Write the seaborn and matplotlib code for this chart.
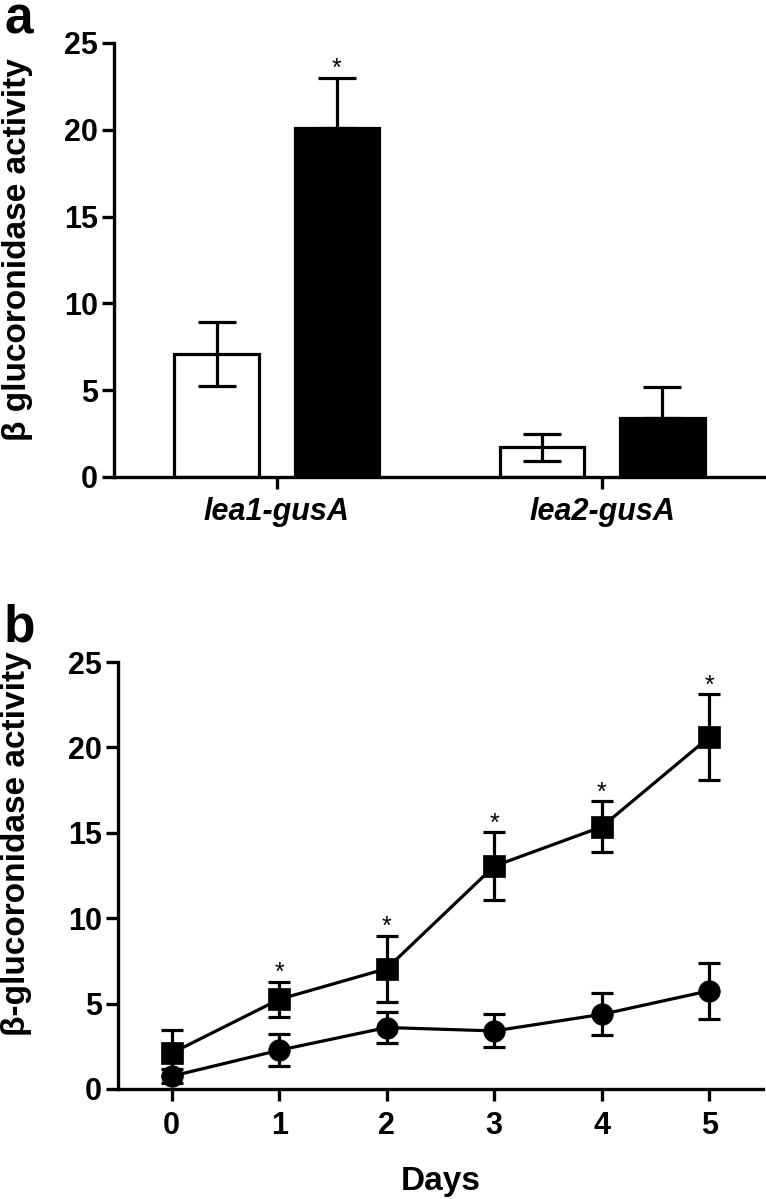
import matplotlib
matplotlib.use("Agg")
import matplotlib.pyplot as plt
from matplotlib.container import BarContainer
import seaborn as sns
import pandas as pd
import numpy as np

# ---------------- data ----------------
genes = ["lea1-gusA", "lea2-gusA"]
conditions = ["Control", "Treated"]
bar_control = [7.1, 1.7]
bar_control_err = [1.85, 0.8]
bar_treated = [20.1, 3.4]
bar_treated_err = [2.9, 1.8]
bar_sig = [True, False]          # asterisk above treated bar

days = [0, 1, 2, 3, 4, 5]
square_mean = [2.1, 5.25, 7.05, 13.05, 15.35, 20.6]
square_err = [1.35, 1.03, 1.93, 2.0, 1.5, 2.5]
circle_mean = [0.75, 2.27, 3.6, 3.4, 4.37, 5.75]
circle_err = [0.4, 0.95, 0.92, 0.97, 1.23, 1.63]
square_sig = [False, True, True, True, True, True]

yticks = [0, 5, 10, 15, 20, 25]

# ---------------- style ----------------
sns.set_style("ticks")
plt.rcParams["font.family"] = ["Liberation Sans", "DejaVu Sans"]
plt.rcParams["font.weight"] = "bold"
for key in ("text.color", "axes.labelcolor", "xtick.color", "ytick.color",
            "axes.edgecolor"):
    plt.rcParams[key] = "black"

W, H = 766, 1199
fig = plt.figure(figsize=(W / 100, H / 100), dpi=100)

LW = 2.4

def style_axis(ax):
    sns.despine(ax=ax)
    for s in ("left", "bottom"):
        ax.spines[s].set_linewidth(LW)
        ax.spines[s].set_color("black")
    ax.tick_params(axis="both", direction="out", width=LW, length=8.5,
                   color="black", labelcolor="black", labelsize=22, pad=3)
    for lab in ax.get_yticklabels() + ax.get_xticklabels():
        lab.set_fontweight("bold")

# ---------------- panel a ----------------
axA = fig.add_axes([114 / W, 1 - 477 / H, (765 - 114) / W, (477 - 43) / H])
dfA = pd.DataFrame({
    "gene": genes * 2,
    "condition": [conditions[0]] * 2 + [conditions[1]] * 2,
    "value": bar_control + bar_treated,
})
sns.barplot(data=dfA, x="gene", y="value", hue="condition", order=genes,
            hue_order=conditions, palette=["white", "black"], width=0.74,
            gap=0.3, edgecolor="black", linewidth=2.3, errorbar=None,
            legend=False, ax=axA)

bar_conts = [c for c in axA.containers if isinstance(c, BarContainer)]
errs = [bar_control_err, bar_treated_err]
for k, cont in enumerate(bar_conts):
    for j, patch in enumerate(cont.patches):
        xc = patch.get_x() + patch.get_width() / 2
        h = patch.get_height()
        e = errs[k][j]
        if k == 0:
            yerr = [[e], [e]]
        else:
            yerr = [[0], [e]]
        axA.errorbar([xc], [h], yerr=yerr, fmt="none", ecolor="black",
                     elinewidth=2.3, capsize=14, capthick=2.3, zorder=5)
        if k == 1 and bar_sig[j]:
            axA.annotate("*", xy=(xc, h + e), xytext=(0, 1),
                         textcoords="offset points", ha="center",
                         va="baseline", fontsize=18, fontweight="normal")

axA.set_xlim(-0.5, 1.5)
axA.set_ylim(0, 25)
axA.set_yticks(yticks)
axA.set_xlabel("")
axA.set_ylabel("β glucoronidase activity", fontsize=24, fontweight="bold")
axA.yaxis.set_label_coords(-0.125, 0.525)
style_axis(axA)
axA.tick_params(axis="x", pad=6)
for lab in axA.get_xticklabels():
    lab.set_fontstyle("italic")
    lab.set_fontsize(22)

# ---------------- panel b ----------------
axB = fig.add_axes([118 / W, 1 - 1089 / H, (763 - 118) / W, (1089 - 662) / H])
dfB = pd.DataFrame({
    "day": days * 2,
    "value": square_mean + circle_mean,
    "series": ["square"] * len(days) + ["circle"] * len(days),
})
sns.lineplot(data=dfB, x="day", y="value", hue="series", style="series",
             hue_order=["square", "circle"], style_order=["square", "circle"],
             palette=["black", "black"], markers=["s", "o"], dashes=False,
             linewidth=2.3, markersize=15.5, markeredgecolor="black",
             markeredgewidth=0.5, errorbar=None, legend=False, ax=axB,
             zorder=4)

axB.errorbar(days, square_mean, yerr=square_err, fmt="none", ecolor="black",
             elinewidth=2.3, capsize=8, capthick=2.3, zorder=3)
axB.errorbar(days, circle_mean, yerr=circle_err, fmt="none", ecolor="black",
             elinewidth=2.3, capsize=8, capthick=2.3, zorder=3)
for d, m, e, s in zip(days, square_mean, square_err, square_sig):
    if s:
        axB.annotate("*", xy=(d, m + e), xytext=(0, 1),
                     textcoords="offset points", ha="center", va="baseline",
                     fontsize=18, fontweight="normal")

axB.set_xlim(-0.5, 5.5)
axB.set_ylim(0, 25)
axB.set_xticks(days)
axB.set_yticks(yticks)
axB.set_xlabel("Days", fontsize=24, fontweight="bold", labelpad=18)
axB.set_ylabel("β-glucoronidase activity", fontsize=24, fontweight="bold")
axB.yaxis.set_label_coords(-0.133, 0.575)
style_axis(axB)
axB.tick_params(axis="x", pad=7)

# ---------------- panel letters ----------------
fig.text(4 / W, 1 - 34 / H, "a", fontsize=37, fontweight="bold",
         ha="left", va="baseline")
fig.text(4 / W, 1 - 641 / H, "b", fontsize=37, fontweight="bold",
         ha="left", va="baseline")

fig.savefig("out.png", dpi=100)
